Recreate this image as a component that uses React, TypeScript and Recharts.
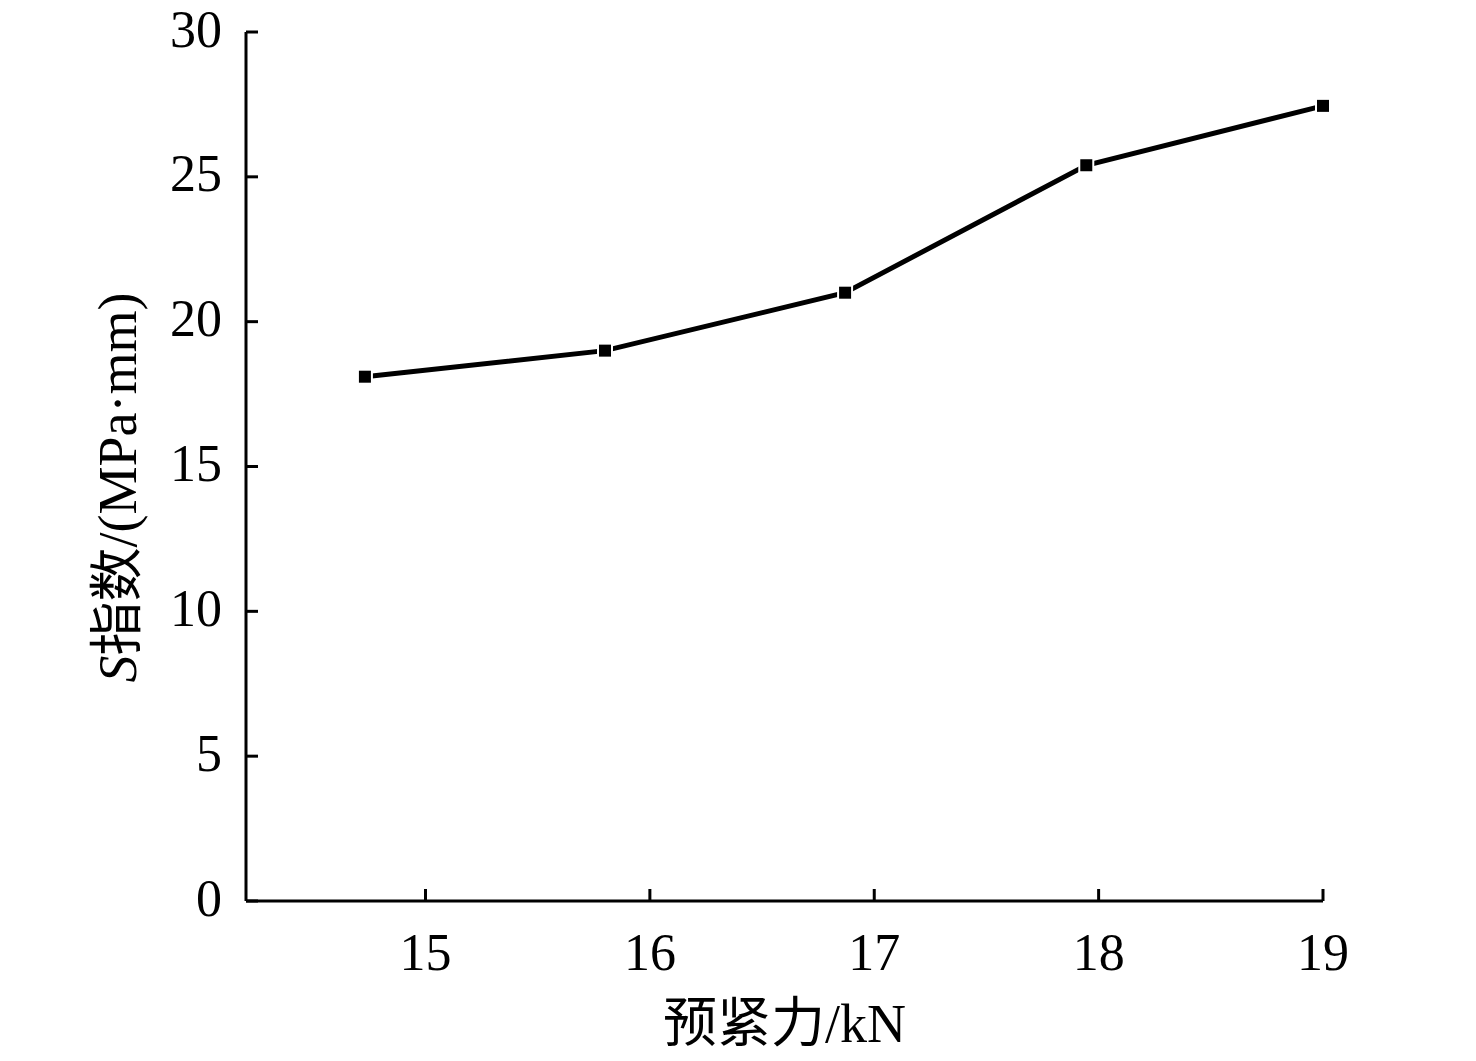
import React from 'react';
import { LineChart, Line, XAxis, YAxis, Label } from 'recharts';

const preload = [14.73, 15.8, 16.87, 17.945, 19];
const sIndex = [18.1, 19.0, 21.0, 25.4, 27.45];
const xTicks = [15, 16, 17, 18, 19];
const yTicks = [0, 5, 10, 15, 20, 25, 30];
const xTitle = '预紧力/kN';
const yTitleVar = 'S';
const yTitleRest = '指数/(MPa·mm)';

const data = preload.map((x, i) => ({ x, y: sIndex[i] }));

const FONT = "'Liberation Serif', 'Times New Roman', 'Noto Sans CJK SC', serif";
const LATIN = "'Liberation Serif', 'Times New Roman', serif";

const XTick = (props: any) => {
  const { x, y, payload } = props;
  return (
    <g>
      <line x1={x} y1={y} x2={x} y2={y - 12} stroke="#000" strokeWidth={3} />
      <text x={x} y={y + 69} textAnchor="middle" fontSize={52} fontFamily={LATIN} fill="#000">
        {payload.value}
      </text>
    </g>
  );
};

const YTick = (props: any) => {
  const { x, y, payload } = props;
  return (
    <g>
      <line x1={x} y1={y} x2={x + 12} y2={y} stroke="#000" strokeWidth={3} />
      <text x={x - 24} y={y - 3} textAnchor="end" dominantBaseline="central" fontSize={52} fontFamily={LATIN} fill="#000">
        {payload.value}
      </text>
    </g>
  );
};

const Marker = (props: any) => {
  const { cx, cy, index } = props;
  if (cx == null || cy == null) return null;
  return (
    <g key={`m-${index}`}>
      <rect x={cx - 8} y={cy - 8} width={16} height={16} fill="#fff" />
      <rect x={cx - 6} y={cy - 6} width={12} height={12} fill="#000" />
    </g>
  );
};

export default function App() {
  return (
    <div style={{ width: 1460, height: 1053, background: '#fff', marginTop: -8 }}>
      <LineChart
        width={1460}
        height={1053}
        data={data}
        margin={{ top: 32, right: 145, left: 138, bottom: 52 }}
      >
        <XAxis
          dataKey="x"
          type="number"
          domain={[14.2, 19]}
          ticks={xTicks}
          height={100}
          tickSize={0}
          tickMargin={0}
          tickLine={false}
          axisLine={{ stroke: '#000', strokeWidth: 3 }}
          tick={<XTick />}
          interval={0}
        >
          <Label
            content={(p: any) => {
              const vb = p.viewBox;
              return (
                <text
                  x={vb.x + vb.width / 2}
                  y={vb.y + 141}
                  textAnchor="middle"
                  fontSize={54}
                  fontFamily={FONT}
                  fill="#000"
                >
                  {xTitle}
                </text>
              );
            }}
          />
        </XAxis>
        <YAxis
          type="number"
          domain={[0, 30]}
          ticks={yTicks}
          width={100}
          tickSize={0}
          tickMargin={0}
          tickLine={false}
          axisLine={{ stroke: '#000', strokeWidth: 3 }}
          tick={<YTick />}
          interval={0}
        >
          <Label
            content={(p: any) => {
              const vb = p.viewBox;
              const cx = vb.x + vb.width - 128;
              const cy = vb.y + vb.height / 2 + 21;
              return (
                <text
                  x={cx}
                  y={cy}
                  transform={`rotate(-90 ${cx} ${cy})`}
                  textAnchor="middle"
                  dominantBaseline="central"
                  fontSize={54}
                  fontFamily={FONT}
                  fill="#000"
                >
                  <tspan fontFamily="Liberation Serif" fontStyle="italic">{yTitleVar}</tspan>
                  <tspan>{yTitleRest}</tspan>
                </text>
              );
            }}
          />
        </YAxis>
        <Line
          type="linear"
          dataKey="y"
          stroke="#000"
          strokeWidth={5}
          dot={<Marker />}
          activeDot={false}
          isAnimationActive={false}
        />
      </LineChart>
    </div>
  );
}
